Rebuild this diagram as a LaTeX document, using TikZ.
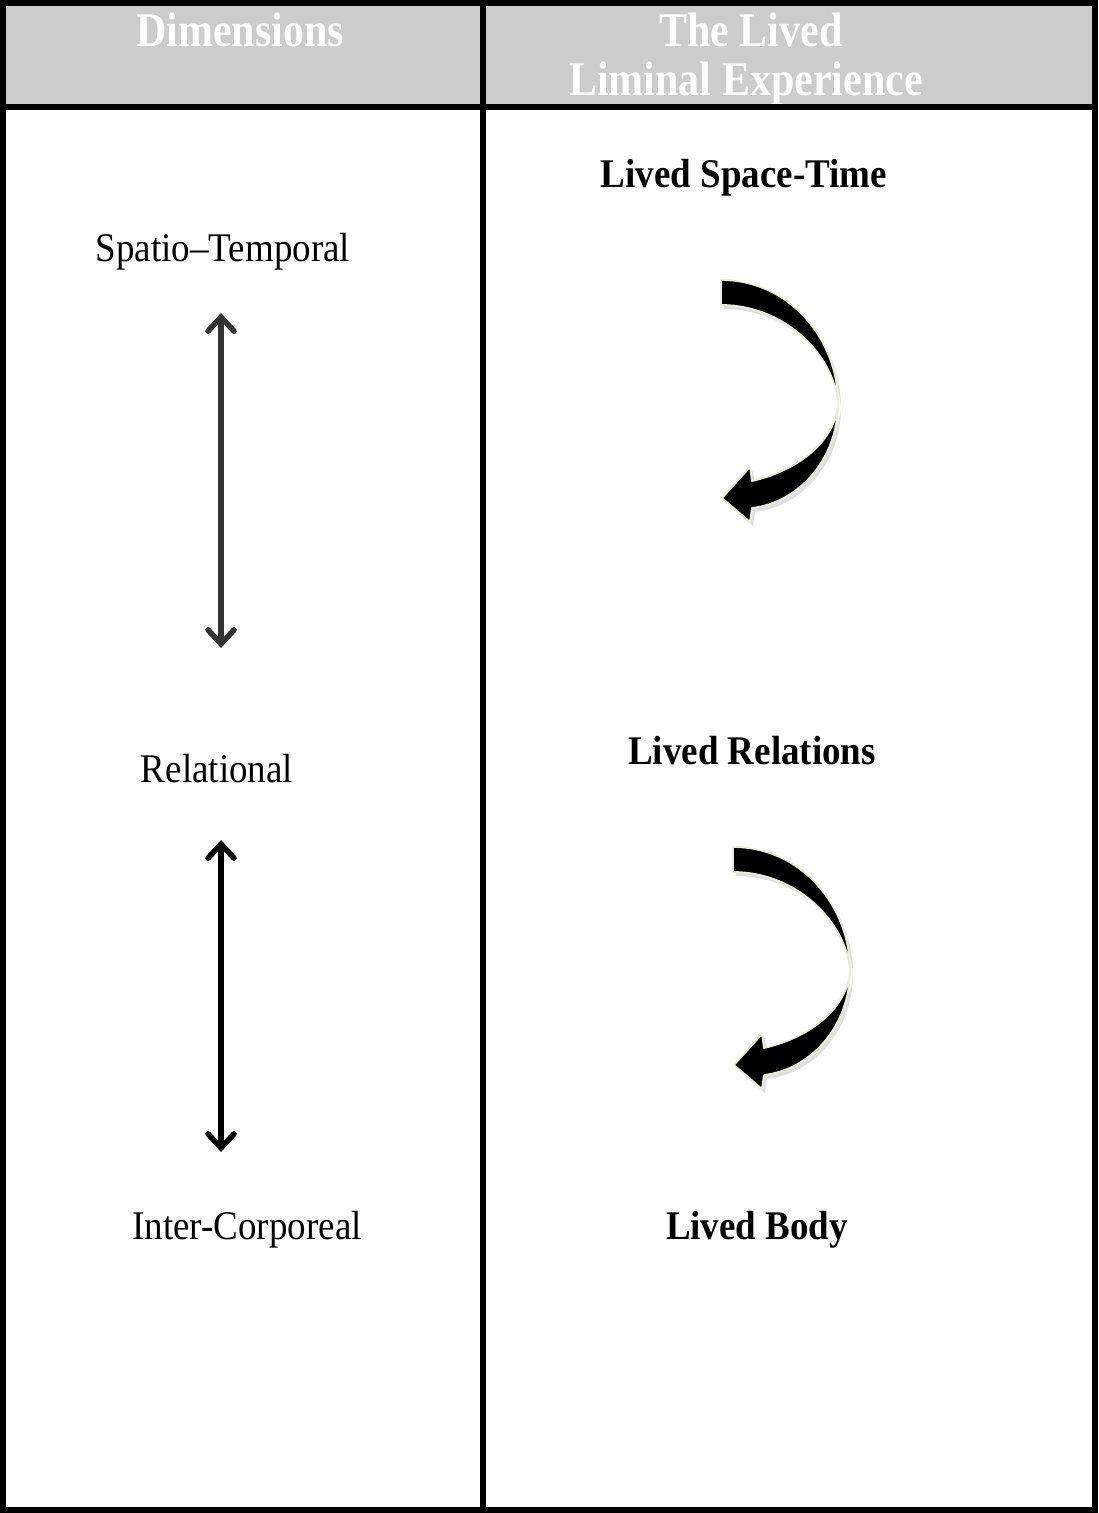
\documentclass[tikz,border=0pt]{standalone}
\usepackage{fontspec}
\setmainfont{Liberation Serif}
\usetikzlibrary{arrows.meta, shadows}
\definecolor{hdgray}{HTML}{CCCCCC}
\definecolor{dkgray}{HTML}{333333}
\definecolor{rimcream}{HTML}{ECECE0}

\newcommand{\tallhd}[1]{\scalebox{1}[1.15]{#1}}
\newcommand{\tallbd}[1]{\scalebox{1}[1.1]{#1}}

\tikzset{
  pics/curlarrow/.style={code={
    \filldraw[black, draw=rimcream, line width=0.9pt, line join=round,
      drop shadow={shadow xshift=1.5pt, shadow yshift=-2pt, opacity=0.25}]
      (0,0) .. controls (69,0) and (117,60) .. (117,123)
      .. controls (117,177) and (80,222) .. (31,228)
      -- (29,242) -- (1,218) -- (29,187) -- (31,201)
      .. controls (79,190) and (115,160) .. (117,123)
      .. controls (113,75) and (64,25) .. (0,25) -- cycle;
  }}
}

\begin{document}
\begin{tikzpicture}[
  x=0.5pt, y=-0.5pt,
  tblline/.style={black, line width=3pt},
  hdtext/.style={white, anchor=base, inner sep=0pt,
    font=\fontsize{21}{24}\selectfont\bfseries},
  dimtext/.style={anchor=base, inner sep=0pt,
    font=\fontsize{18.5}{22}\selectfont},
  livedtext/.style={anchor=base, inner sep=0pt,
    font=\fontsize{18.5}{22}\selectfont\bfseries},
  dimarrow/.style={{Straight Barb[length=7pt, width=13pt, line cap=round]}-{Straight Barb[length=7pt, width=13pt, line cap=round]},
    line width=2.8pt},
]
\useasboundingbox (0,0) rectangle (1098,1513);

% header band
\fill[hdgray] (6,6) rectangle (1093,104);
\node[hdtext] (hdim) at (240,47) {\tallhd{Dimensions}};
\node[hdtext] (hlive1) at (751,47) {\tallhd{The Lived}};
\node[hdtext] (hlive2) at (746,96) {\tallhd{Liminal Experience}};

% left column: dimensions
\node[dimtext] (spt) at (223,262) {\tallbd{Spatio–Temporal}};
\node[dimtext] (rel) at (217,782) {\tallbd{Relational}};
\node[dimtext] (inter) at (247,1239) {\tallbd{Inter-Corporeal}};

\coordinate (a1top) at (221,313);
\coordinate (a1bot) at (221,648);
\coordinate (a2top) at (221,840);
\coordinate (a2bot) at (221,1152);
\draw[dimarrow, dkgray] (a1top) -- (a1bot);
\draw[dimarrow, black] (a2top) -- (a2bot);

% right column: lived experience
\node[livedtext] (lst) at (744,188) {\tallbd{Lived Space-Time}};
\node[livedtext] (lrel) at (752,764) {\tallbd{Lived Relations}};
\node[livedtext] (lbody) at (757,1239) {\tallbd{Lived Body}};

\begin{scope}[shift={(721,280)}]
  \pic {curlarrow};
\end{scope}
\begin{scope}[shift={(733,847)}, xscale=0.93, yscale=0.97]
  \pic {curlarrow};
\end{scope}

% table rules
\draw[tblline] (3,3) rectangle (1095,1510);
\draw[tblline] (483,3) -- (483,1510);
\draw[tblline] (3,107) -- (1095,107);

\end{tikzpicture}
\end{document}
